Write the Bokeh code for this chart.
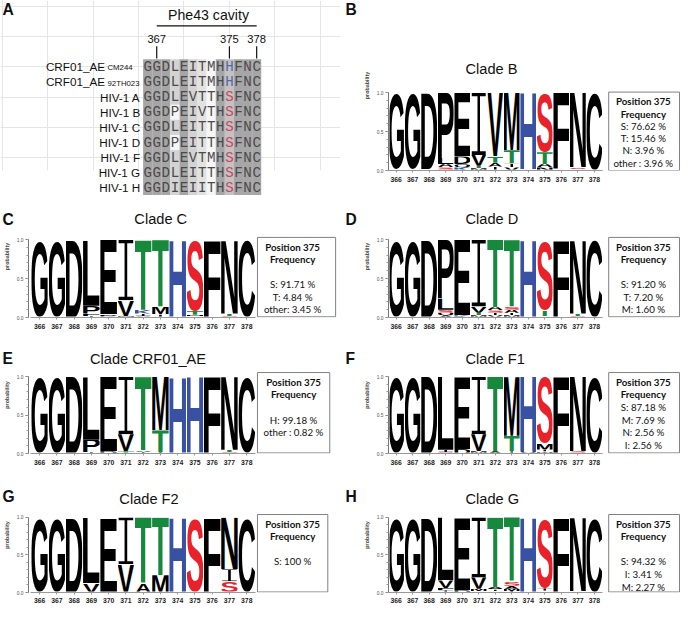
import base64
from bokeh.plotting import figure
from bokeh.models import ColumnDataSource, Range1d, FixedTicker, PrintfTickFormatter
from bokeh.layouts import column, row
from bokeh.embed import file_html
from bokeh.resources import INLINE
from bokeh.core.properties import value

# ---------------------------------------------------------------- data
POSITIONS = [366, 367, 368, 369, 370, 371, 372, 373, 374, 375, 376, 377, 378]

ALIGN_LABELS = ["CRF01_AE", "CRF01_AE", "HIV-1 A", "HIV-1 B", "HIV-1 C",
                "HIV-1 D", "HIV-1 F", "HIV-1 G", "HIV-1 H"]
ALIGN_STRAINS = ["CM244", "92TH023", "", "", "", "", "", "", ""]
ALIGN_SEQS = ["GGDLEITMHHFNC", "GGDLEITMHHFNC", "GGDLEVTTHSFNC",
              "GGDPEIVTHSFNC", "GGDLEITTHSFNC", "GGDPEITTHSFNC",
              "GGDLEVTMHSFNC", "GGDLEITTHSFNC", "GGDIEIITHSFNC"]
ALIGN_SHADE = ["dark", "dark", "dark", "light", "dark", "light", "pale",
               "white", "dark", "mid", "dark", "dark", "dark"]
CAVITY_MARKS = [367, 375, 378]
CAVITY_TITLE = "Phe43 cavity"

# letter probabilities per position (366..378)
LOGO_B = [
    [("G", 0.99), ("E", 0.01)], [("G", 0.99), ("R", 0.01)], [("D", 0.98), ("N", 0.02)],
    [("P", 0.84), ("L", 0.08), ("S", 0.04), ("A", 0.04)],
    [("E", 0.82), ("D", 0.10), ("K", 0.04), ("Q", 0.04)],
    [("I", 0.80), ("V", 0.14), ("M", 0.03), ("T", 0.03)],
    [("V", 0.82), ("T", 0.08), ("I", 0.05), ("A", 0.05)],
    [("M", 0.74), ("T", 0.17), ("I", 0.05), ("V", 0.04)],
    [("H", 0.98), ("Y", 0.02)],
    [("S", 0.7662), ("T", 0.1546), ("N", 0.0396), ("A", 0.0396)],
    [("F", 0.98), ("L", 0.02)], [("N", 0.96), ("T", 0.02), ("S", 0.02)], [("C", 1.0)],
]
LOGO_C = [
    [("G", 0.99)], [("G", 0.99)], [("D", 0.99)],
    [("L", 0.85), ("P", 0.10), ("F", 0.03), ("I", 0.02)],
    [("E", 0.96), ("K", 0.02), ("D", 0.02)],
    [("I", 0.78), ("V", 0.20), ("M", 0.02)],
    [("T", 0.90), ("K", 0.05), ("I", 0.03), ("A", 0.02)],
    [("T", 0.86), ("M", 0.10), ("I", 0.04)],
    [("H", 0.99)],
    [("S", 0.9171), ("T", 0.0484), ("N", 0.02), ("A", 0.0145)],
    [("F", 0.99)], [("N", 0.95), ("T", 0.03), ("S", 0.02)], [("C", 1.0)],
]
LOGO_D = [
    [("G", 0.99)], [("G", 0.99)], [("D", 0.99)],
    [("P", 0.76), ("L", 0.14), ("S", 0.04), ("A", 0.03), ("Q", 0.03)],
    [("E", 0.97), ("K", 0.03)],
    [("I", 0.86), ("V", 0.08), ("M", 0.03), ("T", 0.03)],
    [("T", 0.87), ("A", 0.04), ("V", 0.03), ("I", 0.03), ("S", 0.03)],
    [("T", 0.86), ("A", 0.04), ("S", 0.04), ("M", 0.03), ("I", 0.03)],
    [("H", 1.0)],
    [("S", 0.912), ("T", 0.072), ("M", 0.016)],
    [("F", 1.0)], [("N", 0.95), ("T", 0.03), ("S", 0.02)], [("C", 1.0)],
]
LOGO_AE = [
    [("G", 1.0)], [("G", 1.0)], [("D", 1.0)],
    [("L", 0.82), ("P", 0.16), ("I", 0.02)],
    [("E", 0.97), ("D", 0.03)],
    [("I", 0.75), ("V", 0.22), ("T", 0.03)],
    [("T", 0.96), ("I", 0.02), ("A", 0.02)],
    [("M", 0.70), ("T", 0.28), ("I", 0.02)],
    [("H", 0.99)],
    [("H", 0.9918), ("Y", 0.0082)],
    [("F", 1.0)], [("N", 0.95), ("T", 0.03), ("S", 0.02)], [("C", 1.0)],
]
LOGO_F1 = [
    [("G", 1.0)], [("G", 1.0)], [("D", 1.0)],
    [("L", 0.95), ("I", 0.03), ("S", 0.02)],
    [("E", 0.94), ("D", 0.06)],
    [("I", 0.75), ("V", 0.22), ("M", 0.03)],
    [("T", 0.97), ("A", 0.03)],
    [("M", 0.77), ("T", 0.20), ("I", 0.03)],
    [("H", 0.97), ("Q", 0.03)],
    [("S", 0.8718), ("M", 0.0769), ("N", 0.0256), ("I", 0.0256)],
    [("F", 1.0)], [("N", 0.97), ("S", 0.03)], [("C", 1.0)],
]
LOGO_F2 = [
    [("G", 1.0)], [("G", 1.0)], [("D", 1.0)],
    [("L", 0.88), ("V", 0.12)],
    [("E", 1.0)],
    [("I", 0.62), ("V", 0.38)],
    [("T", 0.88), ("A", 0.12)],
    [("T", 0.77), ("M", 0.23)],
    [("H", 1.0)],
    [("S", 1.0)],
    [("F", 1.0)], [("N", 0.69), ("I", 0.16), ("S", 0.15)], [("C", 1.0)],
]
LOGO_G = [
    [("G", 0.99)], [("G", 0.99)], [("D", 0.99)],
    [("L", 0.84), ("V", 0.10), ("I", 0.03), ("F", 0.03)],
    [("E", 0.97), ("D", 0.03)],
    [("I", 0.80), ("V", 0.15), ("M", 0.03), ("T", 0.02)],
    [("T", 0.93), ("A", 0.03), ("V", 0.02), ("I", 0.02)],
    [("T", 0.85), ("S", 0.06), ("A", 0.04), ("M", 0.03), ("I", 0.02)],
    [("H", 1.0)],
    [("S", 0.9432), ("I", 0.0341), ("M", 0.0227)],
    [("F", 1.0)], [("N", 0.98), ("T", 0.02)], [("C", 1.0)],
]

BOX_B = ["S: 76.62 %", "T: 15.46 %", "N: 3.96 %", "other : 3.96 %"]
BOX_C = ["", "S: 91.71 %", "T: 4.84 %", "other: 3.45 %"]
BOX_D = ["", "S: 91.20 %", "T: 7.20 %", "M: 1.60 %"]
BOX_AE = ["", "H: 99.18 %", "other : 0.82 %"]
BOX_F1 = ["S: 87.18 %", "M: 7.69 %", "N: 2.56 %", "I: 2.56 %"]
BOX_F2 = ["", "S: 100 %"]
BOX_G = ["", "S: 94.32 %", "I: 3.41 %", "M: 2.27 %"]
BOX_HEAD = ["Position 375", "Frequency"]

# ---------------------------------------------------------------- styling / layout
SX = 680 / 696
SY = 606 / 622
SANS = value("Liberation Sans")
BOXFONT = value("Lato")
ANN = "annotation"

def fs(px):
    return f"{px * SY:.2f}px"

LETTER_COLOR = {"T": "#17893c", "S": "#e8212b", "H": "#3951a2", "K": "#3951a2", "R": "#3951a2"}
BOUNDS = {"A": (0.0, 0.722), "C": (0.045, 0.685), "D": (0.073, 0.675), "E": (0.073, 0.615),
          "F": (0.073, 0.565), "G": (0.045, 0.725), "H": (0.073, 0.65), "K": (0.073, 0.725),
          "L": (0.073, 0.585), "M": (0.07, 0.765), "N": (0.073, 0.65), "P": (0.073, 0.625),
          "Q": (0.04, 0.745), "R": (0.073, 0.715), "S": (0.035, 0.63), "T": (0.02, 0.59),
          "V": (0.0, 0.667), "Y": (0.0, 0.667)}
_cache = {}

def letter_url(ch):
    if ch in _cache:
        return _cache[ch]
    color = LETTER_COLOR.get(ch, "#000000")
    if ch == "I":
        vb = "0 0 100 100"
        body = f'<path d="M6 0H94V6H58V94H94V100H6V94H42V6H6Z" fill="{color}"/>'
    else:
        x0, x1 = BOUNDS[ch]
        if ch in "CGQS":
            top, bot = 71.5, 1.5
        else:
            top, bot = 69.5, 0.0
        vb = f"{x0 * 100:.1f} {-top} {(x1 - x0) * 100:.1f} {top + bot}"
        body = (f'<text x="0" y="0" font-family="Liberation Sans, Arial, sans-serif" '
                f'font-weight="bold" font-size="100" fill="{color}">{ch}</text>')
    svg = (f'<svg xmlns="http://www.w3.org/2000/svg" width="100" height="100" '
           f'viewBox="{vb}" preserveAspectRatio="none">{body}</svg>')
    url = "data:image/svg+xml;base64," + base64.b64encode(svg.encode()).decode()
    _cache[ch] = url
    return url

def base_fig(w, h, xr, yr, **kw):
    p = figure(width=w, height=h, x_range=xr, y_range=yr, output_backend="svg",
               toolbar_location=None, title=None, **kw)
    p.outline_line_color = None
    p.background_fill_color = "white"
    p.border_fill_color = "white"
    return p

# ---------------------------------------------------------------- logo geometry
ROWS = [dict(h=200, y0=175, ppu=80, title=70, letter=9, box_top=94, lsp=12.6),
        dict(h=145, y0=125, ppu=80, title=24, letter=25, box_top=43, lsp=12.8),
        dict(h=145, y0=120, ppu=79, title=23, letter=23, box_top=37, lsp=12.9),
        dict(h=132, y0=118, ppu=77, title=22, letter=20, box_top=38, lsp=12.9)]
SIDES = {"L": dict(axis=29, x366=40, step=17.67, box_left=263, letter=2),
         "R": dict(axis=49, x366=57, step=16.9, box_left=274.5, letter=5)}

def row_borders(ri):
    R = ROWS[ri]
    H = round(R["h"] * SY)
    bottom = H - round(R["y0"] * SY)
    return H, bottom

# ---------------------------------------------------------------- panel A
def panel_a():
    W, Href = 348, 200
    x366, step, row0, rstep = 150.6, 9.3, 68.0, 15.55
    H, bottom = row_borders(0)       # same borders as its row neighbour (frames align)
    fb = (H - bottom) / SY
    ax = lambda px: 366 + (px - x366) / step
    ay = lambda py: (py - row0) / rstep
    p = base_fig(round(W * SX), H, Range1d(ax(0), ax(W)), Range1d(ay(fb), ay(0)),
                 x_axis_location=None, y_axis_location=None,
                 min_border_left=0, min_border_right=0,
                 min_border_top=0, min_border_bottom=bottom)
    shade = {"dark": "#a6a6a6", "light": "#d3d3d3", "pale": "#e2e2e2",
             "white": "#f6f6f6", "mid": "#c2c2c2"}
    nrow = len(ALIGN_SEQS)
    # shaded columns
    p.quad(left=[x - 0.5 for x in POSITIONS], right=[x + 0.5 for x in POSITIONS],
           top=[-0.5] * len(POSITIONS), bottom=[nrow - 0.5] * len(POSITIONS),
           fill_color=[shade[s] for s in ALIGN_SHADE], line_color=None, level=ANN)
    # unshaded cells (non-conserved residues)
    cx, cy = [], []
    xs, ys, letters, lcol = [], [], [], []
    for r, seq in enumerate(ALIGN_SEQS):
        for c, pos in enumerate(POSITIONS):
            ch = seq[c]
            if ch == "P":
                cx.append(pos); cy.append(r)
            xs.append(pos); ys.append(r); letters.append(ch)
            if pos == 375 and ch == "H":
                lcol.append("#5566aa")
            elif pos == 375 and ch == "S":
                lcol.append("#cc4466")
            else:
                lcol.append("#4a4a4a")
    p.quad(left=[x - 0.5 for x in cx], right=[x + 0.5 for x in cx],
           top=[y - 0.5 for y in cy], bottom=[y + 0.5 for y in cy],
           fill_color=shade["white"], line_color=None, level=ANN)
    src = ColumnDataSource(dict(x=xs, y=ys, t=letters, c=lcol))
    p.text(x="x", y="y", text="t", text_color="c", text_font=value("Liberation Mono"),
           text_font_size=fs(14.5), text_align="center", text_baseline="middle",
           source=src, level=ANN)
    # row labels
    rows = list(range(nrow))
    hiv = [r for r in rows if not ALIGN_STRAINS[r]]
    crf = [r for r in rows if ALIGN_STRAINS[r]]
    p.text(x=[ax(143)] * len(hiv), y=hiv, text=[ALIGN_LABELS[r] for r in hiv],
           text_font=SANS, text_font_size=fs(12), text_color="#111111",
           text_align="right", text_baseline="middle", level=ANN)
    p.text(x=[ax(107)] * len(crf), y=crf, text=[ALIGN_LABELS[r] for r in crf],
           text_font=SANS, text_font_size=fs(12), text_color="#111111",
           text_align="right", text_baseline="middle", level=ANN)
    p.text(x=[ax(109.5)] * len(crf), y=[r + 0.08 for r in crf], text=[ALIGN_STRAINS[r] for r in crf],
           text_font=SANS, text_font_size=fs(8), text_color="#111111",
           text_align="left", text_baseline="middle", level=ANN)
    # cavity header
    p.text(x=[(POSITIONS[1] + POSITIONS[-1]) / 2 + 0.2], y=[ay(15)], text=[CAVITY_TITLE],
           text_font=SANS, text_font_size=fs(14.5), text_color="#111111",
           text_align="center", text_baseline="middle", level=ANN)
    p.segment(x0=[CAVITY_MARKS[0]], x1=[CAVITY_MARKS[-1]], y0=[ay(26)], y1=[ay(26)],
              line_color="#111111", line_width=1.2, level=ANN)
    p.text(x=CAVITY_MARKS, y=[ay(40)] * 3, text=[str(m) for m in CAVITY_MARKS],
           text_font=SANS, text_font_size=fs(11.5), text_color="#111111",
           text_align="center", text_baseline="middle", level=ANN)
    p.segment(x0=CAVITY_MARKS, x1=CAVITY_MARKS, y0=[ay(47)] * 3, y1=[ay(59.5)] * 3,
              line_color="#111111", line_width=1.2, level=ANN)
    p.text(x=[ax(2)], y=[ay(9)], text=["A"], text_font=SANS, text_font_style="bold",
           text_font_size=fs(16), text_color="#111111", text_align="left",
           text_baseline="middle", level=ANN)
    return p

# ---------------------------------------------------------------- logo panels
def logo_panel(letter, title, stacks, box_lines, side, ri, title_x, title_align,
               box_right, text_cx):
    R, S = ROWS[ri], SIDES[side]
    W = 340
    H, bottom = row_borders(ri)
    left = round(S["axis"] * SX)
    fb = (H - bottom) / SY          # frame bottom in reference px
    dx = lambda px: 366 + (px - S["x366"]) / S["step"]
    dy = lambda py: (fb - py) / R["ppu"]
    p = base_fig(W, H, Range1d(dx(left / SX), dx(W / SX)), Range1d(0, dy(0)),
                 min_border_left=left, min_border_right=0, min_border_top=0,
                 min_border_bottom=bottom)
    p.xgrid.grid_line_color = None
    p.ygrid.grid_line_color = None
    # axes
    p.yaxis.ticker = FixedTicker(ticks=[0, 0.5, 1.0], minor_ticks=[i / 10 for i in range(11)])
    p.yaxis.bounds = (0, 1)
    p.yaxis.formatter = PrintfTickFormatter(format="%.1f")
    p.yaxis.axis_label = "probability"
    p.yaxis.axis_label_text_font = "Liberation Sans"
    p.yaxis.axis_label_text_font_style = "bold"
    p.yaxis.axis_label_text_font_size = fs(5.5)
    p.yaxis.axis_label_standoff = 4
    p.yaxis.major_label_text_font_size = fs(5)
    p.yaxis.major_label_text_color = "#555555"
    p.yaxis.major_label_standoff = 2
    p.yaxis.major_tick_out = 3
    p.yaxis.major_tick_in = 0
    p.yaxis.minor_tick_out = 2
    p.yaxis.minor_tick_in = 0
    p.yaxis.axis_line_color = "#777777"
    p.yaxis.major_tick_line_color = "#777777"
    p.yaxis.minor_tick_line_color = "#999999"
    p.xaxis.ticker = FixedTicker(ticks=POSITIONS)
    p.xaxis.bounds = (365.5, 378.5)
    p.xaxis.major_label_text_font = "Liberation Sans"
    p.xaxis.major_label_text_font_style = "bold"
    p.xaxis.major_label_text_font_size = fs(7)
    p.xaxis.major_label_text_color = "#222222"
    p.xaxis.major_label_standoff = 3 if ri == 3 else 4
    p.xaxis.major_tick_out = 2
    p.xaxis.major_tick_in = 0
    p.xaxis.axis_line_color = "#999999"
    p.xaxis.major_tick_line_color = "#999999"
    # letters
    urls, xs, ys, ws, hs = [], [], [], [], []
    for pos, stack in zip(POSITIONS, stacks):
        cum = 0.0
        for ch, pr in sorted(stack, key=lambda t: t[1]):
            urls.append(letter_url(ch)); xs.append(pos - 0.48); ys.append(cum)
            ws.append(0.96); hs.append(pr)
            cum += pr
    src = ColumnDataSource(dict(url=urls, x=xs, y=ys, w=ws, h=hs))
    p.image_url(url="url", x="x", y="y", w="w", h="h", anchor="bottom_left", source=src)
    # title and panel letter
    p.text(x=[dx(title_x)], y=[dy(R["title"])], text=[title], text_font=SANS,
           text_font_size=fs(15), text_color="#111111", text_align=title_align,
           text_baseline="middle")
    p.text(x=[dx(S["letter"])], y=[dy(R["letter"])], text=[letter], text_font=SANS,
           text_font_style="bold", text_font_size=fs(16), text_color="#111111",
           text_align="left", text_baseline="middle", level=ANN)
    # frequency box
    p.quad(left=[dx(S["box_left"])], right=[dx(box_right)], top=[dy(R["box_top"])],
           bottom=[dy(R["y0"] - 0.5)], fill_color="white", line_color="#808080", line_width=1)
    lines = BOX_HEAD + box_lines
    ly = [dy(R["box_top"] + 9.5 + R["lsp"] * i) for i in range(len(lines))]
    cx = dx(text_cx)
    p.text(x=[cx] * 2, y=ly[:2], text=lines[:2], text_font=BOXFONT, text_font_style="bold",
           text_font_size=fs(10), text_color="#111111", text_align="center",
           text_baseline="middle")
    p.text(x=[cx] * (len(lines) - 2), y=ly[2:], text=lines[2:], text_font=BOXFONT,
           text_font_size=fs(10), text_color="#111111", text_align="center",
           text_baseline="middle")
    return p

pa = panel_a()
pb = logo_panel("B", "Clade B", LOGO_B, BOX_B, "R", 0, 128, "left", 347, 310)
pc = logo_panel("C", "Clade C", LOGO_C, BOX_C, "L", 1, 164, "center", 343, 299)
pd_ = logo_panel("D", "Clade D", LOGO_D, BOX_D, "R", 1, 128, "left", 347, 310)
pe = logo_panel("E", "Clade CRF01_AE", LOGO_AE, BOX_AE, "L", 2, 151, "center", 337, 300)
pf = logo_panel("F", "Clade F1", LOGO_F1, BOX_F1, "R", 2, 128, "left", 347, 310)
pg = logo_panel("G", "Clade F2", LOGO_F2, BOX_F2, "L", 3, 152, "center", 335, 299)
ph = logo_panel("H", "Clade G", LOGO_G, BOX_G, "R", 3, 128, "left", 347, 310)

layout = column(row(pa, pb, spacing=0), row(pc, pd_, spacing=0),
                row(pe, pf, spacing=0), row(pg, ph, spacing=0), spacing=0)

with open("out.html", "w") as f:
    f.write(file_html(layout, INLINE))
